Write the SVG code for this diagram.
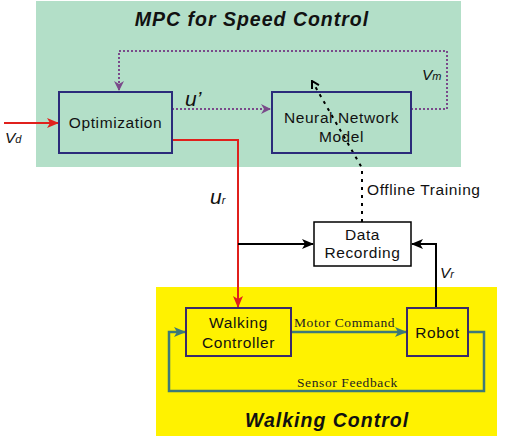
<svg xmlns="http://www.w3.org/2000/svg" width="505" height="444" viewBox="0 0 505 444">
<style>
.sans{font-family:"Liberation Sans",Arial,sans-serif;fill:#111}
.serif{font-family:"Liberation Serif","Times New Roman",serif;fill:#222;font-size:13.5px;letter-spacing:0.6px}
.title{font-family:"Liberation Sans",Arial,sans-serif;font-weight:bold;font-style:italic;font-size:19.5px;letter-spacing:1px;fill:#111}
.lbl{font-size:15.5px;letter-spacing:0.6px}
.math{font-family:"Liberation Sans",Arial,sans-serif;font-style:italic;fill:#111}
.nbox{fill:none;stroke:#2b2b7a;stroke-width:2}
.ybox{fill:none;stroke:#3a2a6a;stroke-width:2}
.purple{fill:none;stroke:#7a4a8a;stroke-width:2;stroke-dasharray:2 2}
.red{fill:none;stroke:#e0201c;stroke-width:2}
.black{fill:none;stroke:#000;stroke-width:2}
.teal{fill:none;stroke:#3d7a78;stroke-width:2.5}
.dot{fill:none;stroke:#000;stroke-width:2;stroke-dasharray:3 5}
</style>
<defs>
<marker id="mp" markerWidth="10" markerHeight="10" refX="9" refY="5" orient="auto" markerUnits="userSpaceOnUse"><path d="M0,0 L10,5 L0,10 L3,5 Z" fill="#7a4a8a"/></marker>
<marker id="mr" markerWidth="12" markerHeight="10" refX="11" refY="5" orient="auto" markerUnits="userSpaceOnUse"><path d="M0,0 L12,5 L0,10 L3,5 Z" fill="#e0201c"/></marker>
<marker id="mb" markerWidth="12" markerHeight="10" refX="11" refY="5" orient="auto" markerUnits="userSpaceOnUse"><path d="M0,0 L12,5 L0,10 L3,5 Z" fill="#000"/></marker>
<marker id="mt" markerWidth="12" markerHeight="10" refX="11" refY="5" orient="auto" markerUnits="userSpaceOnUse"><path d="M0,0 L12,5 L0,10 L3,5 Z" fill="#3d7a78"/></marker>
<marker id="mo" markerWidth="10" markerHeight="10" refX="9" refY="5" orient="auto" markerUnits="userSpaceOnUse"><path d="M2,1 L9,5 L2,9" fill="none" stroke="#000" stroke-width="2"/></marker>
</defs>
<rect width="505" height="444" fill="#fff"/>
<g id="mpc-region">
<rect x="36" y="1" width="425" height="166" fill="#b3dfc8"/>
<text class="title" x="252" y="26" text-anchor="middle">MPC for Speed Control</text>
</g>
<g id="walking-region">
<rect x="156" y="287" width="341" height="149" fill="#fff200"/>
<text class="title" x="327" y="427" text-anchor="middle">Walking Control</text>
</g>
<g id="connectors">
<path class="purple" d="M411,109 H447 V51 H119 V90" marker-end="url(#mp)"/>
<path class="purple" d="M172,109 H270" marker-end="url(#mp)"/>
<path class="red" d="M4,123 H58" marker-end="url(#mr)"/>
<path class="red" d="M172,140 H238 V307" marker-end="url(#mr)"/>
<path class="black" d="M238,244 H313" marker-end="url(#mb)"/>
<path class="black" d="M436,308 V244 H412" marker-end="url(#mb)"/>
<path class="dot" d="M362,222 V168 L312,81" marker-end="url(#mo)"/>
<path class="teal" d="M291,332 H406" marker-end="url(#mt)"/>
<path class="teal" d="M468,332 H484 V391 H169 V332 H185" marker-end="url(#mt)"/>
<text class="math" x="185" y="106" font-size="21">u’</text>
<text class="math" x="422" y="80" font-size="15.5">V<tspan font-size="11">m</tspan></text>
<text class="math" x="5" y="143" font-size="15.5">V<tspan font-size="11">d</tspan></text>
<text class="math" x="210" y="204" font-size="21">u<tspan font-size="11">r</tspan></text>
<text class="math" x="440" y="278" font-size="15.5">V<tspan font-size="11">r</tspan></text>
<text class="sans lbl" x="367" y="195">Offline Training</text>
<text class="serif" x="294" y="327">Motor Command</text>
<text class="serif" x="297" y="387">Sensor Feedback</text>
</g>
<g id="optimization">
<rect class="nbox" x="59" y="92" width="113" height="61"/>
<text class="sans lbl" x="115.5" y="128" text-anchor="middle">Optimization</text>
</g>
<g id="neural-network-model">
<rect class="nbox" x="272" y="92" width="139" height="61"/>
<text class="sans lbl" x="341.5" y="123" text-anchor="middle">Neural Network</text>
<text class="sans lbl" x="341.5" y="142" text-anchor="middle">Model</text>
</g>
<g id="data-recording">
<rect x="314" y="222" width="97" height="44" fill="#fff" stroke="#000" stroke-width="1.5"/>
<text class="sans lbl" x="362.5" y="240" text-anchor="middle">Data</text>
<text class="sans lbl" x="362.5" y="258" text-anchor="middle">Recording</text>
</g>
<g id="walking-controller">
<rect class="ybox" x="186" y="308" width="105" height="48"/>
<text class="sans lbl" x="238.5" y="328" text-anchor="middle">Walking</text>
<text class="sans lbl" x="238.5" y="348" text-anchor="middle">Controller</text>
</g>
<g id="robot">
<rect class="ybox" x="407" y="308" width="61" height="48"/>
<text class="sans lbl" x="437.5" y="338" text-anchor="middle">Robot</text>
</g>
</svg>
